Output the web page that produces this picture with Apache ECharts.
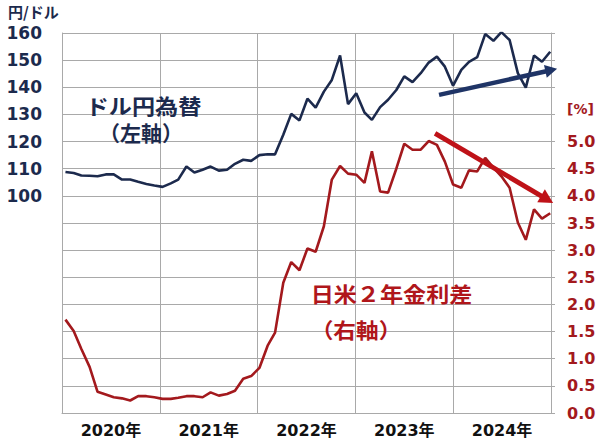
<!DOCTYPE html>
<html><head><meta charset="utf-8">
<script src="https://cdn.jsdelivr.net/npm/echarts@6/dist/echarts.min.js"></script>
<style>html,body{margin:0;padding:0;background:#fff}#c{width:600px;height:438px}</style>
</head><body><div id="c"></div>
<script>
// ---- data ----
const years = ['2020年', '2021年', '2022年', '2023年', '2024年'];
// month-end observations, Dec 2019 .. Dec 2024 (61 points)
const months = [];
for (let k = 0; k < 61; k++) {
  const d = new Date(2019, 12 + k, 0);
  months.push(d.getFullYear() + '-' + String(d.getMonth() + 1).padStart(2, '0') + '-' + String(d.getDate()).padStart(2, '0'));
}
const usdjpy = [108.8, 108.4, 107.5, 107.4, 107.2, 107.9, 107.9, 106.0, 106.0, 105.2, 104.4, 103.8,
  103.3, 104.6, 106.0, 110.8, 108.6, 109.6, 110.8, 109.3, 109.6, 111.8, 113.3, 112.9,
  115.0, 115.3, 115.3, 122.5, 130.2, 127.8, 135.8, 132.5, 138.4, 142.7, 151.7, 133.8,
  137.8, 130.7, 128.0, 132.7, 135.4, 139.0, 144.0, 141.9, 145.2, 149.1, 151.3, 147.6,
  140.6, 146.4, 149.4, 151.1, 159.6, 157.1, 160.3, 157.4, 145.2, 139.9, 151.7, 149.4, 153.1];
const spread = [1.72, 1.51, 1.18, 0.85, 0.39, 0.34, 0.29, 0.27, 0.23, 0.31, 0.31, 0.29,
  0.26, 0.26, 0.28, 0.31, 0.31, 0.29, 0.38, 0.32, 0.35, 0.41, 0.63, 0.68,
  0.83, 1.24, 1.48, 2.40, 2.78, 2.63, 3.03, 2.97, 3.44, 4.30, 4.55, 4.41,
  4.39, 4.24, 4.82, 4.08, 4.06, 4.50, 4.96, 4.85, 4.85, 5.01, 4.94, 4.63,
  4.21, 4.15, 4.47, 4.45, 4.70, 4.52, 4.36, 4.15, 3.51, 3.19, 3.75, 3.58, 3.68];
// trend arrows (date, value) start -> end
const blueArrow = [['2023-11-08', 137.2], ['2025-01-26', 146.8]];
const redArrow = [['2023-10-24', 5.15], ['2025-01-11', 3.87]];

const ts = s => { const [y, m, d] = s.split('-').map(Number); return new Date(y, m - 1, d).getTime(); };
const NAVY = '#1c2a4d', RED = '#a3191d', GRID = '#a9a9a9';
const NUMFONT = '"DejaVu Sans", "Noto Sans CJK JP", sans-serif';
const JPFONT = '"Noto Sans CJK JP", sans-serif';

const chart = echarts.init(document.getElementById('c'), null, { renderer: 'svg' });
chart.setOption({
  animation: false,
  backgroundColor: '#fff',
  grid: { left: 62, right: 49, top: 33, bottom: 24 },
  xAxis: [{
    type: 'category', data: years, boundaryGap: true,
    axisLine: { lineStyle: { color: GRID, width: 1 } },
    axisTick: { show: false },
    splitLine: { show: true, lineStyle: { color: GRID, width: 1 } },
    axisLabel: { color: '#111', fontSize: 16, fontWeight: 'bold', fontFamily: NUMFONT, margin: 9 }
  }, {
    type: 'time', show: false, min: ts('2019-12-18'), max: ts('2025-01-03')
  }],
  yAxis: [{
    type: 'value', min: 20, max: 160, interval: 10, position: 'left',
    axisLine: { show: true, lineStyle: { color: GRID } },
    axisTick: { show: false },
    splitLine: { show: true, lineStyle: { color: GRID, width: 1 } },
    axisLabel: { color: NAVY, fontSize: 17, fontWeight: 'bold', fontFamily: NUMFONT, margin: 20,
      formatter: v => v >= 100 ? String(v) : '' }
  }, {
    type: 'value', min: 0, max: 7, interval: 0.5, position: 'right',
    axisLine: { show: true, lineStyle: { color: GRID } },
    axisTick: { show: true, length: 4, lineStyle: { color: GRID } },
    splitLine: { show: false },
    axisLabel: { color: RED, fontSize: 16, fontWeight: 'bold', fontFamily: NUMFONT, margin: 16,
      formatter: v => v <= 5.001 ? v.toFixed(1) : (Math.abs(v - 5.5) < 1e-6 ? '{u|[%]}' : ''),
      rich: { u: { fontSize: 14, fontWeight: 'bold', color: RED, fontFamily: NUMFONT, padding: [0, 0, 10, 0] } } }
  }],
  series: [{
    name: 'ドル円為替', type: 'line', xAxisIndex: 1, yAxisIndex: 0, symbol: 'none',
    lineStyle: { color: NAVY, width: 2.6 }, z: 3,
    data: months.map((d, i) => [ts(d), usdjpy[i]])
  }, {
    name: '日米２年金利差', type: 'line', xAxisIndex: 1, yAxisIndex: 1, symbol: 'none',
    lineStyle: { color: RED, width: 2.6 }, z: 3,
    data: months.map((d, i) => [ts(d), spread[i]])
  }]
});

function arrow(p0, p1, color, w, hl, hw) {
  const dx = p1[0] - p0[0], dy = p1[1] - p0[1], L = Math.hypot(dx, dy), ux = dx / L, uy = dy / L;
  const bx = p1[0] - ux * hl, by = p1[1] - uy * hl, nx = -uy, ny = ux;
  return [
    { type: 'line', z: 50, shape: { x1: p0[0], y1: p0[1], x2: bx + ux, y2: by + uy }, style: { stroke: color, lineWidth: w } },
    { type: 'polygon', z: 50, shape: { points: [[p1[0], p1[1]], [bx + nx * hw / 2, by + ny * hw / 2], [bx - nx * hw / 2, by - ny * hw / 2]] }, style: { fill: color } }
  ];
}
function txt(text, x, y, color, size, sx) {
  return { type: 'text', x: x, y: y, scaleX: sx, z: 40,
    style: { text: text, fill: color, fontSize: size, fontWeight: 'bold', fontFamily: JPFONT,
      textAlign: 'center', textVerticalAlign: 'middle', verticalAlign: 'middle' } };
}
const bp = blueArrow.map(p => chart.convertToPixel({ seriesIndex: 0 }, [ts(p[0]), p[1]]));
const rp = redArrow.map(p => chart.convertToPixel({ seriesIndex: 1 }, [ts(p[0]), p[1]]));
chart.setOption({
  graphic: { elements: [
    { type: 'text', x: 8, y: 11, z: 40, style: { text: '円/ドル', fill: NAVY, fontSize: 15, fontWeight: 'bold', fontFamily: JPFONT, textAlign: 'left', textVerticalAlign: 'middle', verticalAlign: 'middle' } },
    txt('ドル円為替', 143.5, 104, NAVY, 21, 1.1),
    txt('（左軸）', 141, 131.5, NAVY, 21, 1.0),
    txt('日米２年金利差', 391.5, 292.5, '#b0161b', 21, 1.1),
    txt('（右軸）', 356, 328.5, '#b0161b', 21, 1.08),
    ...arrow(bp[0], bp[1], '#1f3466', 4.5, 12, 13),
    ...arrow(rp[0], rp[1], '#bf1218', 4.8, 14, 15)
  ] }
});
</script></body></html>
